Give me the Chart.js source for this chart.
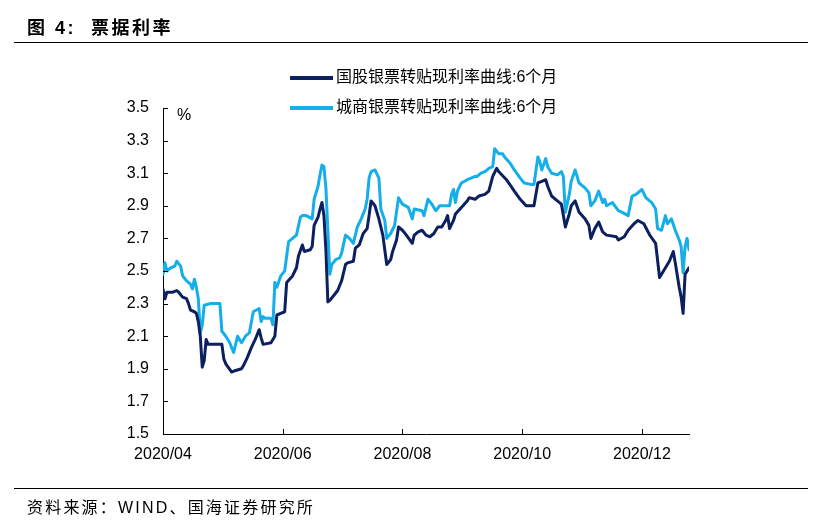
<!DOCTYPE html>
<html>
<head>
<meta charset="utf-8">
<script src="https://cdn.jsdelivr.net/npm/chart.js@4.4.0/dist/chart.umd.min.js"></script>
<style>
  html, body { margin: 0; padding: 0; background: #fff; }
  #wrap { position: relative; width: 821px; height: 523px; }
  #box { position: absolute; left: 0; top: 0; width: 821px; height: 523px; }
  .rule { position: absolute; left: 14px; width: 794px; height: 0; border-top: 1.5px solid #000; }
  #title { position: absolute; left: 27px; top: 13px; font: bold 18px 'Liberation Sans', 'Noto Sans CJK SC'; letter-spacing: 2.5px; color: #000; white-space: pre; }
  #source { position: absolute; left: 27px; top: 494px; font: 16px 'Liberation Sans', 'Noto Sans CJK SC'; letter-spacing: 2.2px; color: #000; }
</style>
</head>
<body>
<div id="wrap">
  <div id="box"><canvas id="myChart"></canvas></div>
  <div id="title">图 4:  票据利率</div>
  <div class="rule" style="top:42px"></div>
  <div class="rule" style="top:488px"></div>
  <div id="source">资料来源：WIND、国海证券研究所</div>
</div>
<script>
// data block (x = days since 2020-04-01)
const seriesNames = ['国股银票转贴现利率曲线:6个月', '城商银票转贴现利率曲线:6个月'];

const darkDay = [0, 1, 2, 5, 7, 8, 10, 12, 13, 14, 16, 17, 18, 19, 20, 21, 22, 23, 24, 30,
    31, 32, 35, 37, 40, 41, 43, 45, 47, 49, 50, 51, 55, 57, 58, 60, 62, 63, 66, 68,
    69, 71, 72, 75, 76, 77, 79, 80, 81, 82, 83, 84, 85, 87, 89, 91, 93, 94, 97, 98,
    100, 102, 104, 105, 106, 108, 110, 112, 113, 114, 116, 117, 119, 120, 122, 124, 127, 128, 130, 132,
    134, 136, 138, 140, 142, 144, 145, 146, 148, 149, 152, 155, 156, 159, 161, 164, 166, 168, 170, 171,
    175, 179, 182, 185, 188, 189, 191, 193, 195, 196, 198, 200, 203, 205, 207, 208, 210, 212, 215, 217,
    218, 220, 222, 224, 226, 231, 232, 235, 237, 240, 242, 245, 248, 251, 253, 255, 258, 260, 261, 263,
    264, 265, 266, 268];
const darkRate = [2.39, 2.33, 2.37, 2.37, 2.38, 2.37, 2.34, 2.33, 2.30, 2.26, 2.25, 2.24, 2.19, 2.10, 1.91, 1.95, 2.08, 2.05, 2.05, 2.05,
    1.96, 1.93, 1.88, 1.89, 1.90, 1.92, 1.97, 2.03, 2.08, 2.14, 2.09, 2.05, 2.06, 2.10, 2.23, 2.24, 2.25, 2.43, 2.47, 2.52,
    2.59, 2.66, 2.62, 2.63, 2.65, 2.78, 2.83, 2.88, 2.92, 2.84, 2.63, 2.31, 2.32, 2.35, 2.38, 2.44, 2.54, 2.55, 2.56, 2.64,
    2.66, 2.73, 2.76, 2.84, 2.93, 2.90, 2.82, 2.72, 2.63, 2.54, 2.57, 2.62, 2.69, 2.77, 2.75, 2.72, 2.67, 2.72, 2.74, 2.75,
    2.72, 2.71, 2.73, 2.77, 2.77, 2.81, 2.84, 2.76, 2.81, 2.85, 2.89, 2.93, 2.95, 2.94, 2.96, 2.97, 2.99, 3.08, 3.13, 3.11,
    3.06, 2.99, 2.94, 2.90, 2.90, 2.90, 3.04, 3.05, 3.06, 3.02, 2.96, 2.94, 2.91, 2.77, 2.85, 2.90, 2.93, 2.86, 2.82, 2.78,
    2.70, 2.76, 2.80, 2.74, 2.72, 2.71, 2.69, 2.71, 2.75, 2.79, 2.81, 2.79, 2.72, 2.67, 2.46, 2.50, 2.56, 2.62, 2.55, 2.40,
    2.34, 2.24, 2.48, 2.52];

const lightDay = [0, 1, 2, 4, 6, 7, 9, 10, 12, 14, 15, 16, 17, 18, 19, 20, 21, 24, 29, 30,
    32, 34, 36, 38, 40, 42, 44, 46, 49, 50, 51, 52, 55, 56, 57, 58, 60, 62, 64, 66,
    68, 70, 71, 73, 76, 77, 79, 80, 81, 82, 83, 84, 85, 86, 88, 90, 91, 93, 95, 97,
    99, 101, 103, 104, 105, 106, 108, 110, 111, 113, 114, 116, 118, 120, 122, 125, 127, 128, 132, 133,
    135, 137, 139, 141, 143, 146, 147, 148, 149, 150, 152, 155, 157, 159, 160, 162, 164, 166, 168, 169,
    171, 173, 174, 177, 179, 182, 184, 188, 189, 191, 192, 193, 195, 196, 198, 201, 203, 204, 205, 207,
    208, 210, 212, 215, 217, 218, 220, 222, 224, 225, 226, 229, 232, 234, 237, 239, 241, 244, 246, 249,
    251, 252, 254, 256, 257, 259, 261, 263, 264, 265, 266, 267, 268];
const lightRate = [2.48, 2.55, 2.50, 2.52, 2.53, 2.56, 2.53, 2.47, 2.44, 2.42, 2.39, 2.45, 2.40, 2.33, 2.12, 2.17, 2.29, 2.30, 2.30, 2.13,
    2.10, 2.06, 2.00, 2.10, 2.06, 2.10, 2.12, 2.25, 2.27, 2.19, 2.22, 2.21, 2.21, 2.17, 2.43, 2.40, 2.47, 2.50, 2.68, 2.70,
    2.72, 2.83, 2.84, 2.84, 2.82, 2.94, 3.02, 3.09, 3.15, 3.14, 3.01, 2.75, 2.48, 2.54, 2.57, 2.58, 2.61, 2.72, 2.70, 2.67,
    2.77, 2.82, 2.88, 2.94, 3.07, 3.11, 3.12, 3.07, 2.88, 2.81, 2.70, 2.73, 2.78, 2.95, 2.91, 2.89, 2.82, 2.88, 2.87, 2.84,
    2.94, 2.91, 2.87, 2.90, 2.90, 2.90, 2.97, 3.00, 2.92, 2.99, 3.04, 3.06, 3.07, 3.08, 3.08, 3.10, 3.11, 3.13, 3.14, 3.25,
    3.22, 3.22, 3.20, 3.16, 3.12, 3.07, 3.04, 3.03, 3.03, 3.20, 3.17, 3.12, 3.19, 3.14, 3.10, 3.09, 3.11, 3.08, 2.86, 2.97,
    3.05, 3.12, 3.04, 3.01, 2.98, 2.90, 2.93, 2.99, 2.92, 2.94, 2.90, 2.92, 2.87, 2.86, 2.84, 2.96, 2.97, 3.00, 2.95, 2.92,
    2.88, 2.76, 2.75, 2.84, 2.79, 2.82, 2.75, 2.69, 2.65, 2.49, 2.65, 2.70, 2.63];

const tickDays = [0, 61, 122, 183, 244];
const tickLabels = ['2020/04', '2020/06', '2020/08', '2020/10', '2020/12'];
const lastDay = 268;
const unitLabel = '%';

const toPoints = (days, rates) => days.map((d, i) => ({ x: d, y: rates[i] }));

const font = "'Liberation Sans', 'Noto Sans CJK SC'";

// inward tick marks, unit label and the stacked legend above the plot
const decorations = {
    id: 'decorations',
    afterDraw(chart) {
        const { ctx, chartArea, scales: { x, y } } = chart;
        ctx.save();
        ctx.strokeStyle = '#000';
        ctx.lineWidth = 1;
        ctx.beginPath();
        y.ticks.forEach(t => {
            const py = Math.round(y.getPixelForValue(t.value)) + 0.5;
            ctx.moveTo(chartArea.left, py);
            ctx.lineTo(chartArea.left + 5, py);
        });
        x.ticks.forEach(t => {
            const px = Math.round(x.getPixelForValue(t.value)) + 0.5;
            ctx.moveTo(px, chartArea.bottom);
            ctx.lineTo(px, chartArea.bottom - 5);
        });
        ctx.stroke();

        ctx.fillStyle = '#000';
        ctx.font = "16px " + font;
        ctx.textAlign = 'center';
        ctx.textBaseline = 'middle';
        ctx.fillText(unitLabel, chartArea.left + 21, chartArea.top + 8);

        // legend: one row per dataset
        ctx.textAlign = 'left';
        const lx = chartArea.left + 127;
        chart.data.datasets.forEach((ds, i) => {
            const ly = chartArea.top - 30 + i * 30;
            ctx.strokeStyle = ds.borderColor;
            ctx.lineWidth = 4;
            ctx.beginPath();
            ctx.moveTo(lx, ly);
            ctx.lineTo(lx + 43, ly);
            ctx.stroke();
            ctx.fillStyle = '#000';
            ctx.fillText(ds.label, lx + 46, ly);
        });
        ctx.restore();
    }
};

const data = {
    datasets: [{
        label: seriesNames[0],
        data: toPoints(darkDay, darkRate),
        borderColor: '#0c1f5e',
        backgroundColor: '#0c1f5e',
        borderWidth: 3
    }, {
        label: seriesNames[1],
        data: toPoints(lightDay, lightRate),
        borderColor: '#14aeea',
        backgroundColor: '#14aeea',
        borderWidth: 3
    }]
};

const config = {
    type: 'line',
    data: data,
    plugins: [decorations],
    options: {
        responsive: true,
        maintainAspectRatio: false,
        animation: false,
        layout: { padding: { left: 113, right: 132, top: 108, bottom: 59 } },
        elements: {
            point: { radius: 0 },
            line: { tension: 0, borderJoinStyle: 'round', borderCapStyle: 'round' }
        },
        scales: {
            x: {
                type: 'linear',
                min: 0,
                max: lastDay,
                afterBuildTicks: scale => { scale.ticks = tickDays.map(v => ({ value: v })); },
                afterFit: scale => { scale.height = 30; },
                grid: { display: false, drawTicks: false },
                border: { display: true, color: '#000', width: 1 },
                ticks: {
                    autoSkip: false,
                    maxRotation: 0,
                    padding: 11,
                    color: '#000',
                    font: { family: font, size: 16 },
                    callback: v => tickLabels[tickDays.indexOf(v)]
                }
            },
            y: {
                min: 1.5,
                max: 3.5,
                afterFit: scale => { scale.width = 50; },
                grid: { display: false, drawTicks: false },
                border: { display: true, color: '#000', width: 1 },
                ticks: {
                    stepSize: 0.2,
                    padding: 14,
                    color: '#000',
                    font: { family: font, size: 16 },
                    callback: v => v.toFixed(1)
                }
            }
        },
        plugins: {
            tooltip: { enabled: false },
            legend: { display: false }
        }
    }
};

// init render block
const ctx = document.getElementById('myChart');
const myChart = new Chart(ctx, config);
</script>
</body>
</html>
